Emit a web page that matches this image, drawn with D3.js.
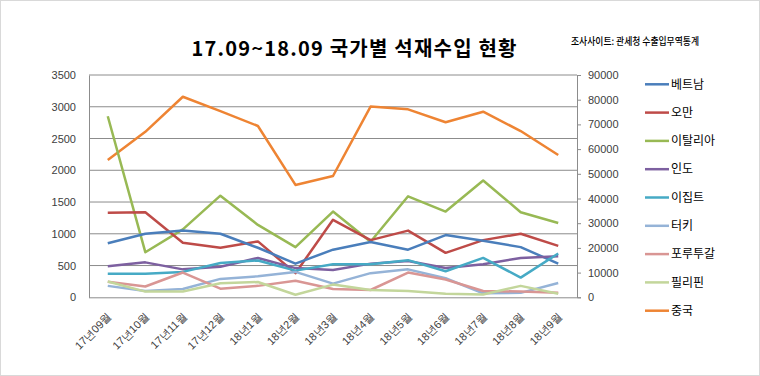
<!DOCTYPE html>
<html><head><meta charset="utf-8">
<script src="https://cdn.jsdelivr.net/npm/d3@7"></script>
<style>
body{margin:0;background:#fff;}
svg{display:block;font-family:"Malgun Gothic","Noto Sans CJK KR","Noto Sans",sans-serif;}
</style></head><body>
<svg id="c" width="760" height="376"></svg>
<script>
const months = ["17년09월","17년10월","17년11월","17년12월","18년1월","18년2월","18년3월","18년4월","18년5월","18년6월","18년7월","18년8월","18년9월"];
const leftTicks = [0,500,1000,1500,2000,2500,3000,3500];
const rightTicks = [0,10000,20000,30000,40000,50000,60000,70000,80000,90000];
const seriesNames = ["베트남","오만","이탈리아","인도","이집트","터키","포루투갈","필리핀","중국"];
const vietnam = [850,1000,1050,1000,780,530,750,870,750,980,890,790,530];
const oman = [1330,1340,860,780,880,380,1220,900,1050,700,900,1000,810];
const italy = [2850,710,1070,1600,1140,790,1350,875,1590,1350,1840,1340,1170];
const india = [490,550,440,480,620,460,430,530,570,460,520,620,645];
const egypt = [370,370,400,540,580,420,520,520,585,410,620,310,690];
const turkey = [180,100,130,290,330,400,215,380,440,300,63,70,225];
const portugal = [245,170,390,135,180,260,130,115,390,280,100,90,70];
const philippines = [250,90,90,220,240,40,200,115,100,55,45,180,55];
const china = [55600,67000,81200,75400,69350,45500,49100,77200,76100,70850,75150,67300,57600];

const colors = ["#4A7EBB","#BE4B48","#98B954","#7D60A0","#46AAC5","#95B3D7","#D99694","#C3D69B","#EE8433"];
const values = [vietnam,oman,italy,india,egypt,turkey,portugal,philippines,china];
const onRight = [false,false,false,false,false,false,false,false,true];

const svg = d3.select("#c");
const L=89, R=577, T=75, B=297.3;

svg.append("rect").attr("x",0.5).attr("y",0.5).attr("width",759).attr("height",375)
  .attr("fill","#fff").attr("stroke","#d9d9d9");

const x = d3.scalePoint().domain(months).range([L,R]).padding(0.5);
const yL = d3.scaleLinear().domain([0,3500]).range([B,T]);
const yR = d3.scaleLinear().domain([0,90000]).range([B,T]);

// gridlines
svg.append("g").selectAll("line").data(leftTicks.filter(d=>d>0)).join("line")
  .attr("x1",L).attr("x2",R).attr("y1",d=>yL(d)).attr("y2",d=>yL(d))
  .attr("stroke","#8c8c8c").attr("stroke-width",1);

// left axis
const gl = svg.append("g").attr("transform",`translate(${L},0)`)
  .call(d3.axisLeft(yL).tickValues(leftTicks).tickFormat(d3.format("d")).tickSize(0).tickPadding(13));
gl.select(".domain").attr("stroke","#8c8c8c");
gl.selectAll("text").attr("font-size","11px").attr("fill","#404040");

// right axis
const gr = svg.append("g").attr("transform",`translate(${R},0)`)
  .call(d3.axisRight(yR).tickValues(rightTicks).tickFormat(d3.format("d")).tickSize(4).tickPadding(7));
gr.select(".domain").attr("stroke","#8c8c8c");
gr.selectAll(".tick line").attr("stroke","#8c8c8c");
gr.selectAll("text").attr("font-size","11px").attr("fill","#404040");

// bottom axis
const gb = svg.append("g").attr("transform",`translate(0,${B})`)
  .call(d3.axisBottom(x).tickSize(0).tickPadding(0));
gb.select(".domain").attr("stroke","#8c8c8c").attr("d",`M${L},0.5H${R}`);
gb.selectAll("text").attr("font-size","11px").attr("fill","#404040")
  .attr("text-anchor","end").attr("dy",0)
  .attr("transform","translate(4,20) rotate(-45)");

// lines
const drawOrder = [8,2,1,0,3,4,5,6,7];
drawOrder.forEach(i=>{
  const ys = onRight[i]?yR:yL;
  const line = d3.line().x((d,j)=>x(months[j])).y(d=>ys(d));
  svg.append("path").datum(values[i]).attr("d",line)
    .attr("fill","none").attr("stroke",colors[i]).attr("stroke-width",2.5)
    .attr("stroke-linejoin","round");
});

// title
svg.append("text").attr("x",354).attr("y",56).attr("text-anchor","middle")
  .attr("font-size","20px").attr("font-weight","bold").attr("fill","#000")
  .attr("textLength",325).attr("lengthAdjust","spacing")
  .text("17.09~18.09 국가별 석재수입 현황");
svg.append("text").attr("x",571).attr("y",45)
  .attr("font-size","10px").attr("font-weight","500").attr("fill","#000")
  .attr("textLength",128).attr("lengthAdjust","spacingAndGlyphs")
  .text("조사사이트: 관세청 수출입무역통계");

// legend
const lg = svg.append("g");
seriesNames.forEach((n,i)=>{
  const yy = 84.3 + i*28.3;
  lg.append("line").attr("x1",645).attr("x2",669).attr("y1",yy).attr("y2",yy)
    .attr("stroke",colors[i]).attr("stroke-width",2.5);
  lg.append("text").attr("x",671).attr("y",yy).attr("dy","0.35em")
    .attr("font-size","12px").attr("fill","#000").text(n);
});
</script></body></html>
